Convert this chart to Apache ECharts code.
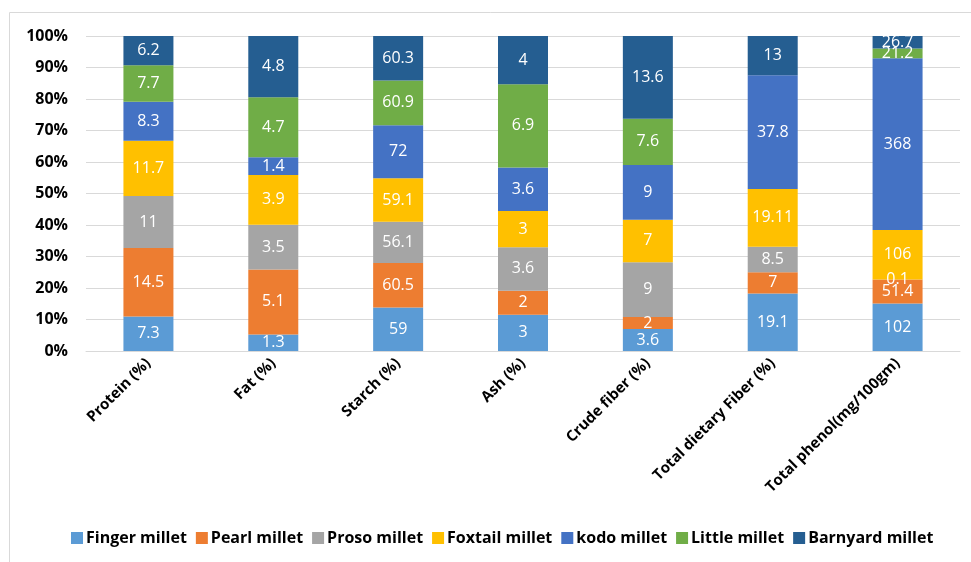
<!DOCTYPE html>
<html><head><meta charset="utf-8">
<script src="https://cdn.jsdelivr.net/npm/echarts@6/dist/echarts.min.js"></script>
<style>html,body{margin:0;padding:0;background:#fff}#c{width:971px;height:562px}</style>
</head><body><div id="c"></div>
<script>
const categories = ['Protein (%)','Fat (%)','Starch (%)','Ash (%)','Crude fiber (%)','Total dietary Fiber (%)','Total phenol(mg/100gm)'];
const seriesNames = ['Finger millet','Pearl millet','Proso millet','Foxtail millet','kodo millet','Little millet','Barnyard millet'];
const fingerMillet   = [7.3, 1.3, 59, 3, 3.6, 19.1, 102];
const pearlMillet    = [14.5, 5.1, 60.5, 2, 2, 7, 51.4];
const prosoMillet    = [11, 3.5, 56.1, 3.6, 9, 8.5, 0.1];
const foxtailMillet  = [11.7, 3.9, 59.1, 3, 7, 19.11, 106];
const kodoMillet     = [8.3, 1.4, 72, 3.6, 9, 37.8, 368];
const littleMillet   = [7.7, 4.7, 60.9, 6.9, 7.6, null, 21.2];
const barnyardMillet = [6.2, 4.8, 60.3, 4, 13.6, 13, 26.7];
const yTicks = [0,10,20,30,40,50,60,70,80,90,100];
const colors = ['#5B9BD5','#ED7D31','#A5A5A5','#FFC000','#4472C4','#70AD47','#255E91'];

const all = [fingerMillet, pearlMillet, prosoMillet, foxtailMillet, kodoMillet, littleMillet, barnyardMillet];
const totals = categories.map((_, i) => all.reduce((s, a) => s + (a[i] || 0), 0));
const FONT = 'Open Sans, Liberation Sans, sans-serif';

const series = all.map((arr, k) => ({
  name: seriesNames[k],
  type: 'bar',
  stack: 'total',
  barWidth: 50,
  itemStyle: { color: colors[k] },
  label: {
    show: true, position: 'inside', color: '#fff', fontSize: 16, fontFamily: FONT,
    formatter: p => (p.data && p.data.raw != null) ? String(p.data.raw) : ''
  },
  data: arr.map((v, i) => v == null ? { value: 0, raw: null } : { value: v / totals[i] * 100, raw: v })
}));

const chart = echarts.init(document.getElementById('c'));
chart.setOption({
  animation: false,
  color: colors,
  grid: { left: 86, right: 11, top: 36, bottom: 211 },
  xAxis: {
    type: 'category', data: categories,
    axisTick: { show: false },
    axisLine: { lineStyle: { color: '#D9D9D9', width: 1 } },
    axisLabel: { rotate: 45, interval: 0, color: '#000', fontWeight: 'bold', fontSize: 15, fontFamily: FONT, margin: 10 }
  },
  yAxis: {
    type: 'value', min: 0, max: 100, interval: 10,
    axisLine: { show: false }, axisTick: { show: false },
    splitLine: { lineStyle: { color: '#D9D9D9', width: 1 } },
    axisLabel: { formatter: v => yTicks.includes(v) ? v + '%' : '', color: '#000', fontWeight: 'bold', fontSize: 16, fontFamily: FONT, margin: 18 }
  },
  legend: {
    left: 66, top: 525, itemWidth: 12, itemHeight: 12, itemGap: 9, icon: 'rect',
    textStyle: { color: '#000', fontWeight: 'bold', fontSize: 16, fontFamily: FONT, padding: [0,0,0,-2] },
    data: seriesNames
  },
  graphic: [
    { type: 'line', shape: { x1: 9.5, y1: 12.5, x2: 971, y2: 12.5 }, style: { stroke: '#D9D9D9', lineWidth: 1 } },
    { type: 'line', shape: { x1: 9.5, y1: 12.5, x2: 9.5, y2: 562 }, style: { stroke: '#D9D9D9', lineWidth: 1 } }
  ],
  series
});
</script></body></html>
